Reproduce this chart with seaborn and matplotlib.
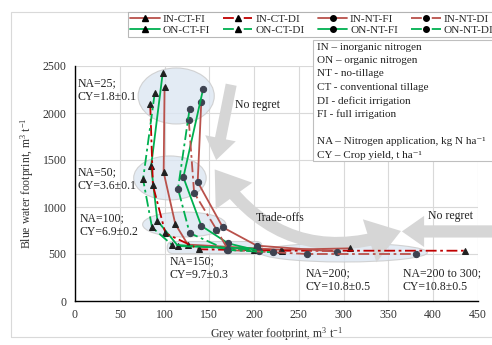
import matplotlib
matplotlib.use("Agg")
import pandas as pd
import matplotlib.pyplot as plt
import seaborn as sns
from matplotlib.patches import Ellipse, FancyBboxPatch, FancyArrowPatch, Rectangle
from matplotlib.lines import Line2D

# grey / blue water footprint (m3 t-1), NA = 25, 50, 100, 150, 200(, 300)
in_ct_fi_x = [100, 99, 112, 126, 230, 307]
in_ct_fi_y = [2280, 1369, 819, 600, 545, 560]
in_ct_di_x = [84, 87, 101, 139, 231, 435]
in_ct_di_y = [2092, 1231, 720, 550, 535, 535]
in_nt_fi_x = [141, 137, 165, 203, 293]
in_nt_fi_y = [2117, 1266, 784, 589, 525]
in_nt_di_x = [127, 133, 158, 171, 259, 381]
in_nt_di_y = [1926, 1152, 760, 543, 500, 500]
on_ct_fi_x = [98, 85, 92, 115, 205]
on_ct_fi_y = [2430, 1436, 854, 585, 555]
on_ct_di_x = [89, 76, 86, 108, 200]
on_ct_di_y = [2210, 1294, 784, 600, 540]
on_nt_fi_x = [143, 121, 141, 171, 205]
on_nt_fi_y = [2252, 1316, 800, 613, 535]
on_nt_di_x = [128, 115, 128, 170, 221]
on_nt_di_y = [2046, 1195, 723, 543, 518]

series = {
    "IN-CT-FI": (in_ct_fi_x, in_ct_fi_y),
    "ON-CT-FI": (on_ct_fi_x, on_ct_fi_y),
    "IN-CT-DI": (in_ct_di_x, in_ct_di_y),
    "ON-CT-DI": (on_ct_di_x, on_ct_di_y),
    "IN-NT-FI": (in_nt_fi_x, in_nt_fi_y),
    "ON-NT-FI": (on_nt_fi_x, on_nt_fi_y),
    "IN-NT-DI": (in_nt_di_x, in_nt_di_y),
    "ON-NT-DI": (on_nt_di_x, on_nt_di_y),
}

x_ticks = [0, 50, 100, 150, 200, 250, 300, 350, 400, 450]
y_ticks = [0, 500, 1000, 1500, 2000, 2500]

note_lines = ["IN \u2013 inorganic nitrogen", "ON \u2013 organic nitrogen", "NT - no-tillage",
              "CT - conventional tillage", "DI - deficit irrigation", "FI - full irrigation", "",
              "NA \u2013 Nitrogen application, kg N ha\u207b\u00b9", "CY \u2013 Crop yield, t ha\u207b\u00b9"]

RED = "#B9514B"
GREEN = "#00B050"
DASHDOT = (0, (6, 2, 1.5, 2))


def style_for(name):
    color = RED if name.startswith("IN") else GREEN
    if name == "IN-CT-DI":
        color = "#C00000"
    ls = "-" if name.endswith("FI") else DASHDOT
    marker = "^" if "-CT-" in name else "o"
    mcol = "#202020" if marker == "^" else "#3D4250"
    return color, ls, marker, mcol


rows = []
for name, (xs, ys) in series.items():
    for i, (gx, by) in enumerate(zip(xs, ys)):
        rows.append({"series": name, "step": i, "grey": gx, "blue": by})
df = pd.DataFrame(rows)

sns.set_theme(style="whitegrid")
plt.rcParams["font.family"] = ["Liberation Serif", "DejaVu Serif"]
plt.rcParams["mathtext.fontset"] = "custom"
plt.rcParams["mathtext.rm"] = "Liberation Serif"
plt.rcParams["mathtext.it"] = "Liberation Serif:italic"

W, H = 492, 345
fig = plt.figure(figsize=(4.92, 3.45), dpi=100)
fig.patch.set_facecolor("white")
fig.add_artist(Rectangle((11 / W, 8 / H), 1.2, 325 / H, transform=fig.transFigure,
                         fill=False, edgecolor="#D9D9D9", linewidth=0.8))
ax = fig.add_axes([75 / W, 44 / H, 403 / W, 235 / H])
ax.set_facecolor("white")

# highlight zones
zone_kw = dict(facecolor="#DCE6F2", edgecolor="#C9C9C9", linewidth=0.8, alpha=0.8, zorder=1)
ax.add_patch(Ellipse((113, 2181), 85, 596, **zone_kw))
ax.add_patch(Ellipse((106, 1309), 81, 468, **zone_kw))
ax.add_patch(Ellipse((122, 814), 93, 266, **zone_kw))
ax.add_patch(FancyBboxPatch((103, 505), 106, 128, boxstyle="round,pad=0,rounding_size=6",
                            mutation_aspect=10, **zone_kw))
ax.add_patch(Ellipse((300, 516), 187, 202, **zone_kw))

# gray guide arrows
arrow_col = "#D6D6D6"
ax.add_patch(FancyArrowPatch((175, 2330), (157, 1470), arrowstyle="simple,head_width=1.4,head_length=1.0,tail_width=0.5",
                             mutation_scale=16, color=arrow_col, zorder=2, linewidth=0))
ax.add_patch(FancyArrowPatch((156, 1400), (364, 745), connectionstyle="arc3,rad=0.36",
                             arrowstyle="<|-|>,head_width=0.55,head_length=0.8",
                             mutation_scale=14, color=arrow_col, linewidth=9, zorder=2,
                             shrinkA=0, shrinkB=0, joinstyle="miter", capstyle="butt"))
ax.annotate("", xy=(365, 740), xytext=(470, 740), xycoords="data", annotation_clip=False,
            arrowprops=dict(arrowstyle="simple,head_width=1.4,head_length=1.0,tail_width=0.55",
                            mutation_scale=16, color=arrow_col, linewidth=0, shrinkA=0, shrinkB=0))

for name in series:
    color, ls, marker, mcol = style_for(name)
    d = df[df["series"] == name]
    sns.lineplot(data=d, x="grey", y="blue", sort=False, estimator=None, ax=ax,
                 color=color, linestyle=ls, linewidth=1.3, marker=marker, markersize=4.5,
                 markerfacecolor=mcol, markeredgecolor=mcol, zorder=3, legend=False)

ax.set_xlim(0, 450)
ax.set_ylim(0, 2500)
ax.set_xticks(x_ticks)
ax.set_yticks(y_ticks)
ax.tick_params(labelsize=8.5, length=0, pad=6, colors="#333333")
ax.grid(True, color="#D9D9D9", linewidth=0.8)
ax.set_axisbelow(True)
for s in ["top", "right"]:
    ax.spines[s].set_visible(False)
for s in ["left", "bottom"]:
    ax.spines[s].set_color("black")
    ax.spines[s].set_linewidth(1.0)
ax.set_xlabel("Grey water footprint, m$^3$ t$^{-1}$", fontsize=8.5, labelpad=3, color="#333333")
ax.set_ylabel("Blue water footprint, m$^3$ t$^{-1}$", fontsize=8.5, labelpad=5, color="#333333")

lab_kw = dict(fontsize=8.5, color="#222222", va="center", ha="left", linespacing=1.15, zorder=4)
ax.text(3, 2245, "NA=25;\nCY=1.8\u00b10.1", **lab_kw)
ax.text(3, 1298, "NA=50;\nCY=3.6\u00b10.1", **lab_kw)
ax.text(5, 808, "NA=100;\nCY=6.9\u00b10.2", **lab_kw)
ax.text(106, 351, "NA=150;\nCY=9.7\u00b10.3", **lab_kw)
ax.text(257, 223, "NA=200;\nCY=10.8\u00b10.5", **lab_kw)
ax.text(366, 223, "NA=200 to 300;\nCY=10.8\u00b10.5", **lab_kw)
ax.text(179, 2085, "No regret", **lab_kw)
ax.text(202, 883, "Trade-offs", **lab_kw)
ax.text(394, 904, "No regret", **lab_kw)

handles = []
for name in series:
    color, ls, marker, mcol = style_for(name)
    handles.append(Line2D([], [], color=color, linestyle=ls, linewidth=1.3, marker=marker,
                          markersize=4, markerfacecolor="black", markeredgecolor="black"))
leg = fig.legend(handles, list(series.keys()), ncol=4, loc="upper left",
                 bbox_to_anchor=(128 / W, 1 - 12 / H), fontsize=8.1, frameon=True,
                 fancybox=False, edgecolor="#A6A6A6", handlelength=2.6, columnspacing=1.2,
                 handletextpad=0.25, labelspacing=0.05, borderpad=0.2, borderaxespad=0)
leg.get_frame().set_linewidth(0.8)

# definitions box
fig.add_artist(Rectangle((313 / W, 1 - 161 / H), 1.0, 121 / H, transform=fig.transFigure,
                         facecolor="white", edgecolor="#BFBFBF", linewidth=0.8, zorder=5))
for i, line in enumerate(note_lines):
    if line:
        fig.text(317 / W, 1 - (47 + 13.5 * i) / H, line, fontsize=8.0, va="center", ha="left",
                 color="#222222", zorder=6)

fig.savefig("out.png", dpi=100)
